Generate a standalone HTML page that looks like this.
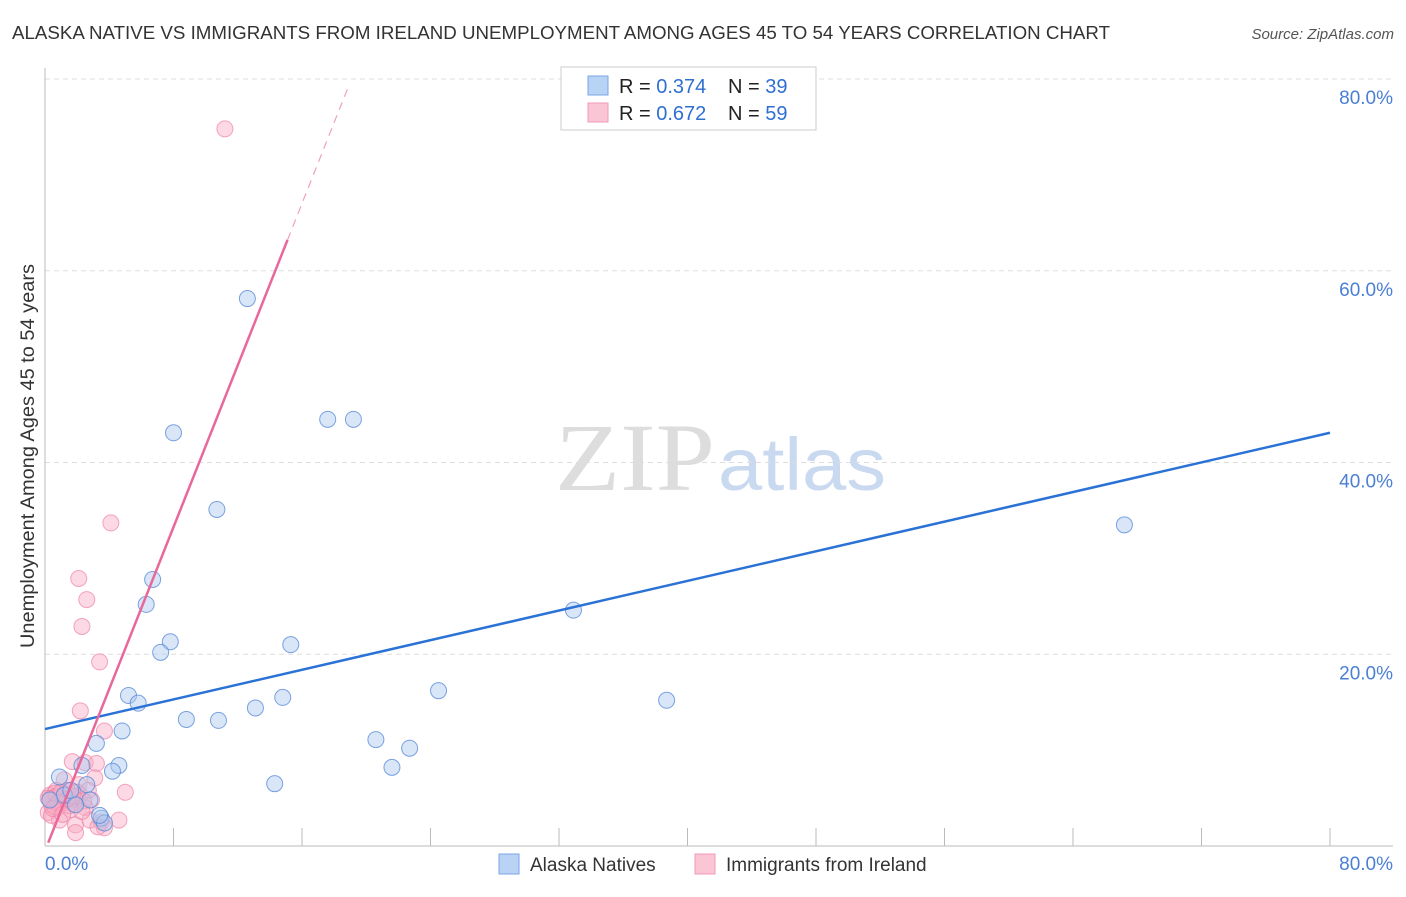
<!DOCTYPE html>
<html><head><meta charset="utf-8"><style>
body{margin:0;background:#fff;font-family:"Liberation Sans",sans-serif;}
svg text{font-family:"Liberation Sans",sans-serif;}
</style></head><body>
<svg id="chart" width="1406" height="892" xmlns="http://www.w3.org/2000/svg">
<text x="12" y="39" font-size="18" fill="#333" textLength="1098" lengthAdjust="spacingAndGlyphs">ALASKA NATIVE VS IMMIGRANTS FROM IRELAND UNEMPLOYMENT AMONG AGES 45 TO 54 YEARS CORRELATION CHART</text>
<text x="1394" y="39" font-size="15" fill="#555" font-style="italic" text-anchor="end">Source: ZipAtlas.com</text>
<text x="555" y="490" font-size="96" fill="#ddd" textLength="160" lengthAdjust="spacingAndGlyphs" style="font-family:'Liberation Serif',serif">ZIP</text>
<text x="718" y="490" font-size="74" fill="#c9d9ef" textLength="168" lengthAdjust="spacingAndGlyphs">atlas</text>
<g id="grid"></g><g id="marks"></g>
<text transform="translate(34,456) rotate(-90)" font-size="19" fill="#333" text-anchor="middle" textLength="384" lengthAdjust="spacingAndGlyphs">Unemployment Among Ages 45 to 54 years</text>
<g>
<rect x="561" y="67" width="255" height="63" fill="#fff" stroke="#ccc"/>
<rect x="588" y="76" width="20" height="19" fill="#b9d3f5" stroke="#7aa6e3"/>
<text x="619" y="93" font-size="20" fill="#222">R = <tspan fill="#2f6fd1">0.374</tspan><tspan x="728">N = </tspan><tspan fill="#2f6fd1">39</tspan></text>
<rect x="588" y="103" width="20" height="19" fill="#fac6d6" stroke="#f09ab5"/>
<text x="619" y="120" font-size="20" fill="#222">R = <tspan fill="#2f6fd1">0.672</tspan><tspan x="728">N = </tspan><tspan fill="#2f6fd1">59</tspan></text>
</g>
<g>
<rect x="499" y="854" width="20" height="20" fill="#b9d3f5" stroke="#7aa6e3"/>
<text x="530" y="871" font-size="19" fill="#333">Alaska Natives</text>
<rect x="695" y="854" width="20" height="20" fill="#fac6d6" stroke="#f09ab5"/>
<text x="726" y="871" font-size="19" fill="#333">Immigrants from Ireland</text>
</g>
</svg>
<script>
const blueX=[12.6,8.0,17.6,19.2,10.7,67.2,6.7,6.3,32.9,7.8,7.2,15.3,5.2,5.8,24.5,38.7,8.8,10.8,13.1,14.8,4.8,3.2,20.6,22.7,21.6,4.6,4.2,2.3,14.3,0.9,2.6,2.8,1.2,1.9,3.5,3.7,0.3,1.6,3.4];
const blueY=[57.1,43.1,44.5,44.5,35.1,33.5,27.8,25.2,24.6,21.3,20.2,21.0,15.7,14.9,16.2,15.2,13.2,13.1,14.4,15.5,12.0,10.7,11.1,10.2,8.2,8.4,7.8,8.4,6.5,7.2,6.4,4.8,5.3,4.3,2.9,2.4,4.8,5.8,3.2];
const pinkX=[11.2,4.1,2.1,2.6,2.3,3.4,2.2,3.7,1.7,2.5,3.2,3.1,1.2,2.1,5.0,0.7,0.9,1.6,0.4,0.3,0.6,1.1,1.3,0.8,1.9,2.2,2.9,1.6,2.5,0.2,0.9,1.9,2.8,3.5,3.7,4.6,1.9,3.3,0.4,1.4,2.0,2.7,0.5,1.0,1.5,0.3,0.7,1.2,1.8,2.4,0.6,1.0,1.4,0.2,0.8,1.7,2.3,0.5,1.1];
const pinkY=[74.8,33.7,27.9,25.7,22.9,19.2,14.1,12.0,8.8,8.7,8.6,7.1,6.9,6.4,5.6,5.8,4.8,5.1,4.3,5.3,5.5,5.0,4.5,4.0,4.8,5.3,4.8,3.8,4.0,3.5,2.7,2.2,2.7,2.5,1.9,2.7,1.4,2.0,3.2,5.8,5.6,5.8,5.0,4.6,4.2,4.9,5.2,5.4,4.4,4.7,4.1,5.6,4.9,5.0,4.5,5.2,3.6,3.9,3.3];
const blueTrend=[12.2,43.1]; // y at x=0, y at x=80
const pinkTrend=[-0.5,4.22]; // intercept, slope
const pinkSolidEnd=15.1, pinkDashEnd=18.9;
const yTicks=[20,40,60,80];
const xTickVals=[8,16,24,32,40,48,56,64,72,80];
const NS="http://www.w3.org/2000/svg";
const sx=v=>45+v*1285/80, sy=v=>846-v*767/80;
function mk(t,a,p){const e=document.createElementNS(NS,t);for(const k in a)e.setAttribute(k,a[k]);p.appendChild(e);return e;}
const grid=document.getElementById('grid'), marks=document.getElementById('marks');
yTicks.forEach(v=>{
  const l=mk('line',{x1:45,x2:1393,y1:sy(v),y2:sy(v),stroke:'#ddd','stroke-dasharray':'5,4'},grid);
  
  
  const t=mk('text',{x:1393,y:sy(v)+25,'font-size':19,fill:'#4a7fd4','text-anchor':'end'},grid);
  t.textContent=v.toFixed(1)+'%';
  
  
});
mk('line',{x1:45,x2:45,y1:68,y2:846,stroke:'#bbb'},grid);
mk('line',{x1:45,x2:1393,y1:846,y2:846,stroke:'#bbb'},grid);
xTickVals.forEach(v=>{
  const l=mk('line',{x1:sx(v),x2:sx(v),y1:828,y2:846,stroke:'#bbb'},grid);
  
  
});
const x0=mk('text',{x:45,y:870,'font-size':19,fill:'#4a7fd4'},grid);x0.textContent='0.0%';


const x1=mk('text',{x:1393,y:870,'font-size':19,fill:'#4a7fd4','text-anchor':'end'},grid);x1.textContent='80.0%';


pinkX.forEach((x,i)=>{
  const c=mk('circle',{cx:sx(x),cy:sy(pinkY[i]),r:8,fill:'rgba(248,170,195,0.45)',stroke:'rgba(238,130,165,0.7)','stroke-width':1},marks);
  
  
});
blueX.forEach((x,i)=>{
  const c=mk('circle',{cx:sx(x),cy:sy(blueY[i]),r:8,fill:'rgba(170,200,240,0.45)',stroke:'rgba(90,140,215,0.8)','stroke-width':1},marks);
  
  
});
const bt=mk('line',{x1:sx(0),y1:sy(blueTrend[0]),x2:sx(80),y2:sy(blueTrend[1]),stroke:'#2a72d6','stroke-width':2.5},marks);


const px0=0.2;
const pt=mk('line',{x1:sx(px0),y1:sy(pinkTrend[0]+pinkTrend[1]*px0),x2:sx(pinkSolidEnd),y2:sy(pinkTrend[0]+pinkTrend[1]*pinkSolidEnd),stroke:'#e8689a','stroke-width':2.5},marks);


const pd=mk('line',{x1:sx(pinkSolidEnd),y1:sy(pinkTrend[0]+pinkTrend[1]*pinkSolidEnd),x2:sx(pinkDashEnd),y2:sy(pinkTrend[0]+pinkTrend[1]*pinkDashEnd),stroke:'#f0a0bd','stroke-width':1.2,'stroke-dasharray':'8,6'},marks);


</script>
</body></html>
